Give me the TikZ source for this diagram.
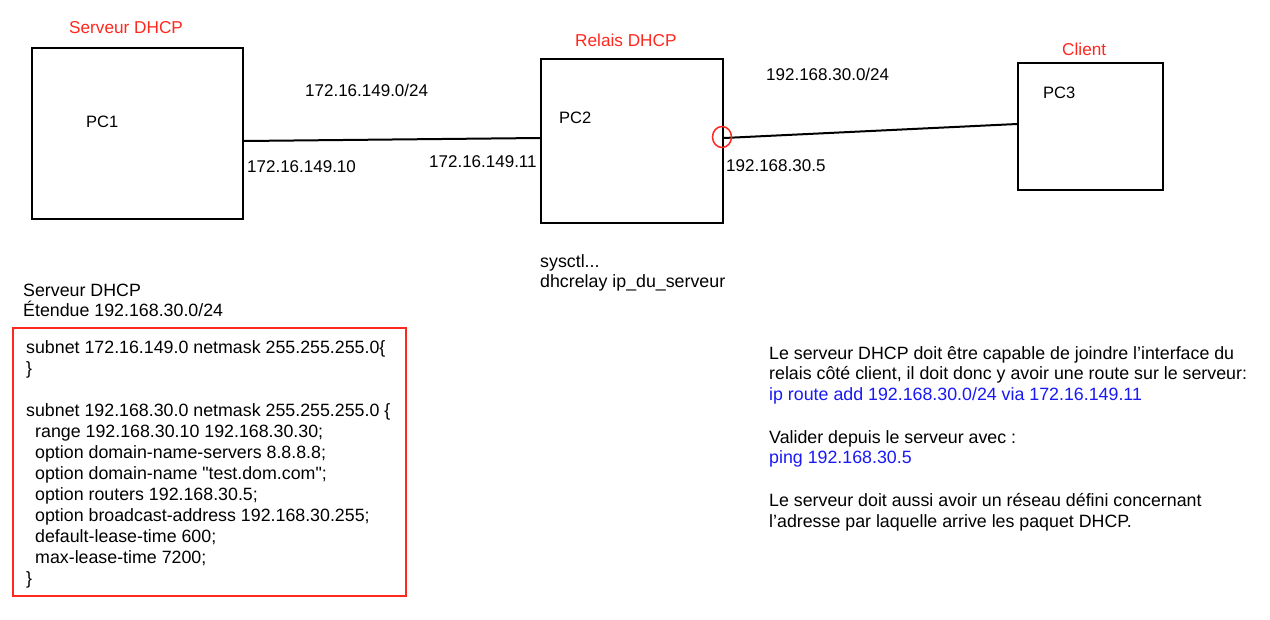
\documentclass[tikz,border=0pt]{standalone}
\usepackage{fontspec}
\setmainfont{Liberation Sans}[Ligatures=TeXOff]
\usetikzlibrary{shapes.geometric}
\definecolor{lblred}{RGB}{255,40,30}
\definecolor{cmdblue}{RGB}{25,25,245}
\begin{document}
\begin{tikzpicture}[x=1pt,y=-1pt,
  txt/.style={anchor=base west,inner sep=0pt,align=left},
  addr/.style={txt,font=\fontsize{17}{20}\selectfont},
  pclbl/.style={txt,font=\fontsize{16.5}{20}\selectfont},
  redlbl/.style={txt,text=lblred,font=\fontsize{17.2}{20}\selectfont},
  para/.style={txt,font=\fontsize{17.8}{20.5}\selectfont},
  pcbox/.style={draw=black,line width=2pt,inner sep=0pt},
  codebox/.style={draw=lblred,line width=2pt,inner sep=0pt},
  link/.style={draw=black,line width=2pt}]
\useasboundingbox[fill=white] (0,0) rectangle (1270,619);

% machines
\node[pcbox,minimum width=211,minimum height=171] (pc1) at (137.5,133.5) {};
\node[pcbox,minimum width=182,minimum height=164] (pc2) at (632,141) {};
\node[pcbox,minimum width=145,minimum height=127] (pc3) at (1090.5,126.5) {};

\node[redlbl] (t1) at (69,33) {Serveur DHCP};
\node[redlbl] (t2) at (575,46) {Relais DHCP};
\node[redlbl] (t3) at (1062,55) {Client};

\node[pclbl] (n1) at (86,127) {PC1};
\node[pclbl] (n2) at (559,123) {PC2};
\node[pclbl] (n3) at (1043,98) {PC3};

% links
\coordinate (ya) at (0,141);
\coordinate (yb) at (0,138);
\coordinate (yc) at (0,124);
\draw[link] (pc1.east |- ya) -- (pc2.west |- yb);
\draw[link] (pc2.east |- yb) -- (pc3.west |- yc);
\node[draw=lblred,line width=1.5pt,ellipse,minimum width=19,minimum height=21,inner sep=0pt] (port) at (722,137) {};

% addresses
\node[addr] (a1) at (305,96) {172.16.149.0/24};
\node[addr] (a2) at (247,172) {172.16.149.10};
\node[addr] (a3) at (429,167) {172.16.149.11};
\node[addr] (a4) at (766,80) {192.168.30.0/24};
\node[addr] (a5) at (726,171) {192.168.30.5};

% relay commands (anchored at last baseline)
\node[para,font=\fontsize{17.8}{20}\selectfont] (relay) at (540,287) {sysctl...\\dhcrelay ip\_du\_serveur};

\node[para,font=\fontsize{17.8}{19.5}\selectfont] (scope) at (23,316) {Serveur DHCP\\Étendue 192.168.30.0/24};

\node[codebox,minimum width=393,minimum height=268] (cfg) at (209.5,462) {};
\node[para,font=\fontsize{17.8}{21}\selectfont] (code) at (26,584) {subnet 172.16.149.0 netmask 255.255.255.0\{\\
\}\\[21pt]
subnet 192.168.30.0 netmask 255.255.255.0 \{\\
\hspace*{9pt}range 192.168.30.10 192.168.30.30;\\
\hspace*{9pt}option domain-name-servers 8.8.8.8;\\
\hspace*{9pt}option domain-name "test.dom.com";\\
\hspace*{9pt}option routers 192.168.30.5;\\
\hspace*{9pt}option broadcast-address 192.168.30.255;\\
\hspace*{9pt}default-lease-time 600;\\
\hspace*{9pt}max-lease-time 7200;\\
\}};

\node[para] (note) at (769,527) {Le serveur DHCP doit être capable de joindre l’interface du\\
relais côté client, il doit donc y avoir une route sur le serveur:\\
\textcolor{cmdblue}{ip route add 192.168.30.0/24 via 172.16.149.11}\\[22.5pt]
Valider depuis le serveur avec :\\
\textcolor{cmdblue}{ping 192.168.30.5}\\[22.5pt]
Le serveur doit aussi avoir un réseau défini concernant\\
l’adresse par laquelle arrive les paquet DHCP.};
\end{tikzpicture}
\end{document}
